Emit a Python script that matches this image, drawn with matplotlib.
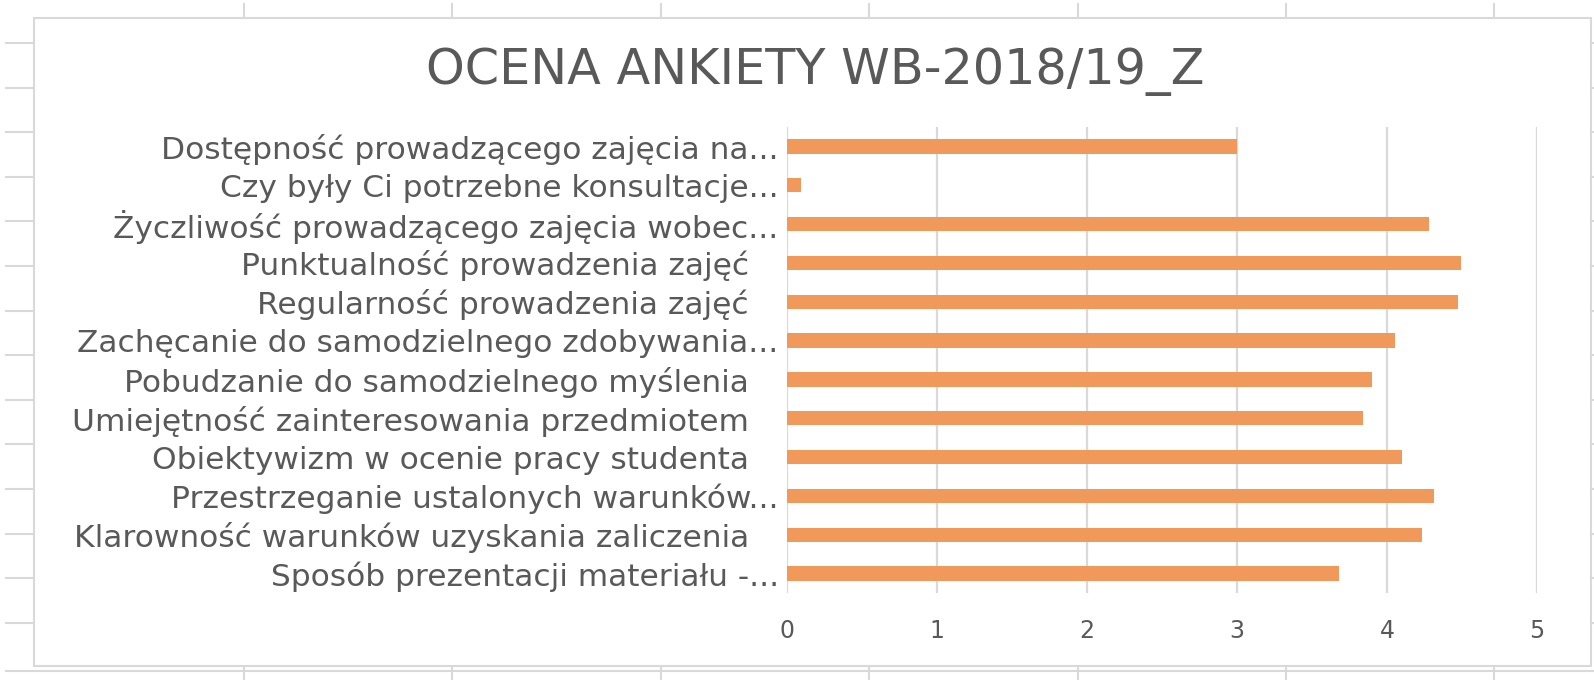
import matplotlib
matplotlib.use("Agg")
import matplotlib.pyplot as plt
import numpy as np

# survey items, top to bottom as shown in the chart
labels = [
    "Dostępność prowadzącego zajęcia na...",
    "Czy były Ci potrzebne konsultacje...",
    "Życzliwość prowadzącego zajęcia wobec...",
    "Punktualność prowadzenia zajęć   ",
    "Regularność prowadzenia zajęć   ",
    "Zachęcanie do samodzielnego zdobywania...",
    "Pobudzanie do samodzielnego myślenia   ",
    "Umiejętność zainteresowania przedmiotem   ",
    "Obiektywizm w ocenie pracy studenta   ",
    "Przestrzeganie ustalonych warunków...",
    "Klarowność warunków uzyskania zaliczenia   ",
    "Sposób prezentacji materiału -...",
]
scores = [3.0, 0.09, 4.28, 4.49, 4.47, 4.05, 3.90, 3.84, 4.10, 4.31, 4.23, 3.68]
xticks = [0, 1, 2, 3, 4, 5]
title = "OCENA ANKIETY WB-2018/19_Z"

W, H = 1594, 680
grey_txt = "#595959"
grid_c = "#D9D9D9"
bar_c = "#F1995A"

fig = plt.figure(figsize=(W / 100, H / 100), dpi=100)
fig.patch.set_facecolor("white")

# spreadsheet cell lines peeking out around the chart object
for x in [244, 452, 661, 869, 1078, 1286, 1494]:
    fig.add_artist(plt.Line2D([x / W, x / W], [1 - 4 / H, 1 - 18 / H], color=grid_c, lw=1.5))
    fig.add_artist(plt.Line2D([x / W, x / W], [1 - 668 / H, 0], color=grid_c, lw=1.5))
for y in np.arange(43, 660, 44.6):
    fig.add_artist(plt.Line2D([6 / W, 34 / W], [1 - y / H, 1 - y / H], color=grid_c, lw=1.5))
    fig.add_artist(plt.Line2D([1591 / W, 1], [1 - y / H, 1 - y / H], color=grid_c, lw=1.5))
fig.add_artist(plt.Line2D([6 / W, 1], [1 - 671 / H, 1 - 671 / H], color=grid_c, lw=1.5))

# chart border
fig.add_artist(plt.Rectangle((34 / W, 1 - 666 / H), (1591 - 34) / W, (666 - 18) / H,
                             fill=False, edgecolor=grid_c, lw=1.5))

ax = fig.add_axes([787 / W, 1 - 593 / H, (1537 - 787) / W, (593 - 127) / H])
y = np.arange(len(labels))
ax.barh(y, scores, height=0.37, color=bar_c, zorder=3)
ax.set_ylim(len(labels) - 0.5, -0.5)
ax.set_xlim(0, 5)
ax.set_xticks(xticks)
ax.set_yticks(y)
ax.set_yticklabels(labels)
ax.grid(axis="x", color=grid_c, lw=1.6, zorder=0)
for s in ax.spines.values():
    s.set_visible(False)
ax.tick_params(axis="both", length=0, colors=grey_txt)
ax.tick_params(axis="y", labelsize=22.5, pad=6)
ax.tick_params(axis="x", labelsize=17, pad=19)

fig.text(815 / W, 1 - 72 / H, title, ha="center", va="center", fontsize=35.5, color=grey_txt)

fig.savefig("out.png", dpi=100, facecolor="white")
